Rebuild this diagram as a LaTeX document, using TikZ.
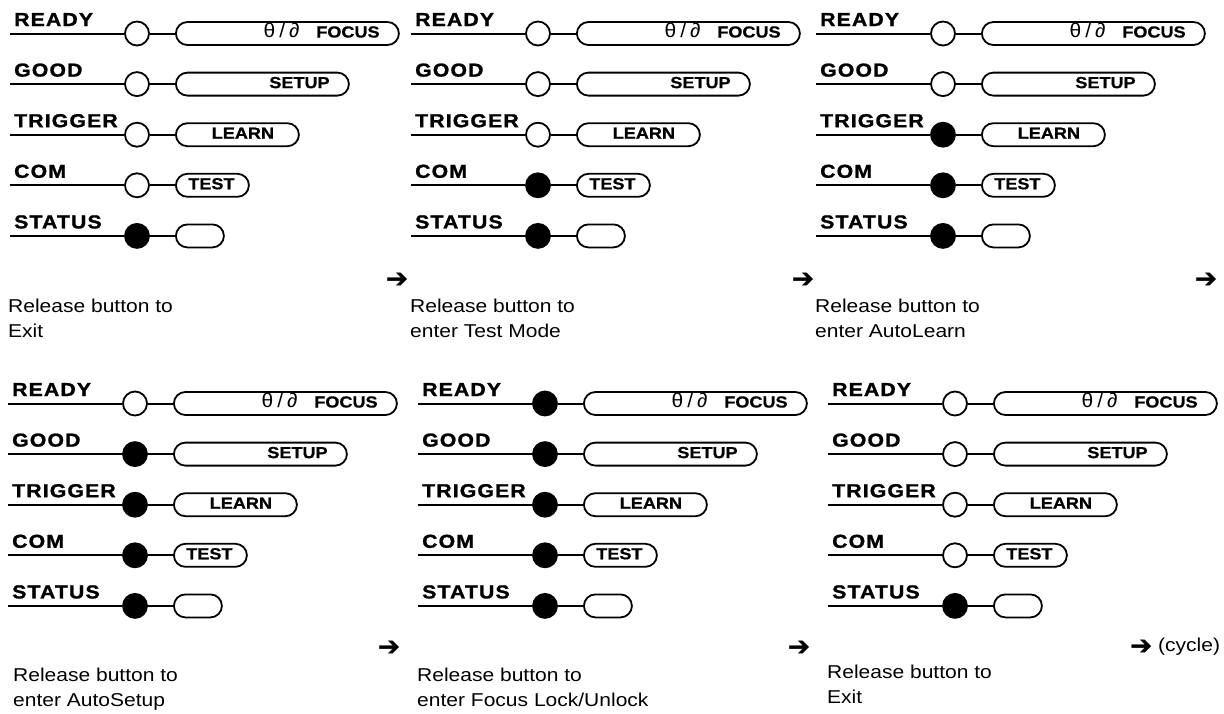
\documentclass[tikz,border=0pt]{standalone}
\usepackage{fontspec}
\setmainfont{Liberation Sans}[FakeStretch=1.13]
\newfontfamily\labfont{Liberation Sans}[FakeStretch=1.13,LetterSpace=6,FakeBold=1.2]
\newfontfamily\pillfont{Liberation Sans}[FakeStretch=1.13,FakeBold=0.8]
\newfontfamily\lockfont{Liberation Sans}[FakeStretch=1.05]
\newfontfamily\arrfont{DejaVu Sans}[FakeBold=1.5]
\tikzset{
  lamp/.style={circle,draw,line width=1.8pt,minimum size=24pt,inner sep=0pt},
  pill/.style={rectangle,draw,line width=1.8pt,rounded corners=11.5pt,minimum height=23pt,inner sep=0pt},
  wire/.style={line width=2pt},
  lbl/.style={inner sep=0pt,font=\labfont\bfseries\fontsize{18.8}{20}\selectfont},
  ptxt/.style={inner sep=0pt,font=\pillfont\bfseries\fontsize{16}{18}\selectfont},
  locktxt/.style={inner sep=0pt,font=\lockfont\fontsize{20}{20}\selectfont},
  note/.style={inner sep=0pt,align=left,font=\fontsize{18.6}{25}\selectfont},
  arr/.style={inner sep=0pt,font=\arrfont\fontsize{26}{26}\selectfont},
}
\newcommand\prow[5]{% #1 prefix, #2 y, #3 fill, #4 label, #5 pill width
  \coordinate (#1s) at (-127,#2);
  \node[lamp,fill=#3] (#1c) at (0,#2) {};
  \node[pill,minimum width=#5,anchor=west] (#1b) at (38,#2) {};
  \node[lbl,anchor=base west] (#1l) at (-123,#2-7.5) {#4};
  \draw[wire] (#1s) -- (#1c);
  \draw[wire] (#1c) -- (#1b);
}
\newcommand\drawpanel[8]{% #1 name, #2 cx, #3 y0, #4-#8 fills
  \begin{scope}[shift={(#2,#3)}]
    \prow{#1r0}{0}{#4}{READY}{223pt}
    \prow{#1r1}{50.6}{#5}{GOOD}{173pt}
    \prow{#1r2}{101.2}{#6}{TRIGGER}{123pt}
    \prow{#1r3}{151.8}{#7}{COM}{73pt}
    \prow{#1r4}{202.4}{#8}{STATUS}{48pt}
    \node[ptxt,anchor=base east] (#1focus) at ([xshift=-20pt,yshift=-4pt]#1r0b.east) {FOCUS};
    \node[locktxt,anchor=base east] (#1lock) at ([xshift=-100pt,yshift=-4pt]#1r0b.east) {θ\hspace{4pt}/\hspace{4pt}∂};
    \node[ptxt,anchor=base east] (#1setup) at ([xshift=-20pt,yshift=-4pt]#1r1b.east) {SETUP};
    \node[ptxt,anchor=base] (#1learn) at ([xshift=5.5pt,yshift=-4pt]#1r2b.center) {LEARN};
    \node[ptxt,anchor=base] (#1test) at ([xshift=-1pt,yshift=-4pt]#1r3b.center) {TEST};
  \end{scope}
}
\begin{document}
\begin{tikzpicture}[x=1pt,y=-1pt]
\useasboundingbox (0,0) rectangle (1224,713);
\fill[white] (0,0) rectangle (1224,713);
\drawpanel{A}{137}{33.5}{white}{white}{white}{white}{black}
\drawpanel{B}{538}{33.5}{white}{white}{white}{black}{black}
\drawpanel{C}{943}{33.5}{white}{white}{black}{black}{black}
\drawpanel{D}{135}{403.5}{white}{black}{black}{black}{black}
\drawpanel{E}{545}{403.5}{black}{black}{black}{black}{black}
\drawpanel{F}{955}{403.5}{white}{white}{white}{white}{black}
% captions (base anchor = baseline of the last line)
\node[note,anchor=base west] (At) at (8,337) {Release button to\\Exit};
\node[note,anchor=base west] (Bt) at (410,337) {Release button to\\enter Test Mode};
\node[note,anchor=base west] (Ct) at (815,337) {Release button to\\enter AutoLearn};
\node[note,anchor=base west] (Dt) at (13,706) {Release button to\\enter AutoSetup};
\node[note,anchor=base west] (Et) at (417,706) {Release button to\\enter Focus Lock/Unlock};
\node[note,anchor=base west] (Ft) at (827,703) {Release button to\\Exit};
% arrows
\node[arr] (Aa) at (397,280) {➔};
\node[arr] (Ba) at (803,280) {➔};
\node[arr] (Ca) at (1206,280) {➔};
\node[arr] (Da) at (389,648) {➔};
\node[arr] (Ea) at (799,648) {➔};
\node[arr,anchor=west] (Fa) at (1130,647) {➔};
\node[note,anchor=west] (Fc) at (1158,647) {(cycle)};
\end{tikzpicture}
\end{document}
